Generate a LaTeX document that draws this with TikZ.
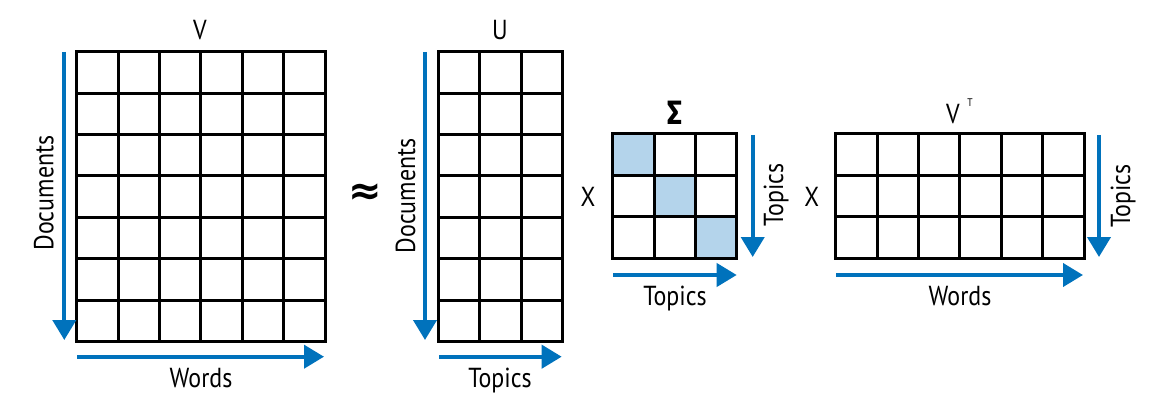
\documentclass[tikz,border=0pt]{standalone}
\usepackage{graphicx}
\usepackage{fontspec}
\setmainfont{PT Sans}[FakeStretch=0.87]
\newfontfamily\djvfam{DejaVu Sans}
\newfontfamily\firafam{Fira Sans}[FakeStretch=0.87]
\usetikzlibrary{arrows.meta}
\definecolor{arrowblue}{RGB}{0,114,188}
\definecolor{cellblue}{RGB}{180,212,235}
\newcommand\cs{41.4}
\newcommand\matgrid[5]{%
  \node[inner sep=0pt, outer sep=0pt, minimum width={#4*\cs*1pt}, minimum height={#5*\cs*1pt}, anchor=north west] (#1) at (#2,#3) {};
  \foreach \i in {0,...,#4} \draw[gridline] ({#2+\i*\cs},#3) -- ({#2+\i*\cs},{#3+#5*\cs});
  \foreach \j in {0,...,#5} \draw[gridline] (#2,{#3+\j*\cs}) -- ({#2+#4*\cs},{#3+\j*\cs});
}
\begin{document}
\begin{tikzpicture}[x=1pt,y=-1pt,
  gridline/.style={line width=3pt, line cap=rect, black},
  arr/.style={arrowblue, line width=4pt, -{Triangle[width=23pt,length=20pt]}},
  lbl/.style={font=\fontsize{27.5}{30}\selectfont, inner sep=0pt, anchor=base},
  rlbl/.style={lbl, rotate=90}]
\useasboundingbox (0,0) rectangle (1162,409);
% shaded diagonal of Sigma
\fill[cellblue] (612.7,134) rectangle ++(\cs,\cs);
\fill[cellblue] ({612.7+\cs},{134+\cs}) rectangle ++(\cs,\cs);
\fill[cellblue] ({612.7+2*\cs},{134+2*\cs}) rectangle ++(\cs,\cs);
% matrices
\matgrid{V}{76.7}{51.7}{6}{7}
\matgrid{U}{438.3}{51.7}{3}{7}
\matgrid{S}{612.7}{134}{3}{3}
\matgrid{VT}{835.7}{134}{6}{3}
% arrow end points
\coordinate (vd1) at (64.3,52);  \coordinate (vd2) at (64.3,340);
\coordinate (vw1) at (77,356.7); \coordinate (vw2) at (324,356.7);
\coordinate (ud1) at (425,52);   \coordinate (ud2) at (425,340);
\coordinate (ut1) at (439,356.7);\coordinate (ut2) at (561.7,356.7);
\coordinate (sv1) at (752.7,135);\coordinate (sv2) at (752.7,257);
\coordinate (sh1) at (613,275);  \coordinate (sh2) at (736.7,275);
\coordinate (tv1) at (1099,135); \coordinate (tv2) at (1099,257);
\coordinate (th1) at (836,275);  \coordinate (th2) at (1083,275);
\draw[arr] (vd1) -- (vd2);
\draw[arr] (vw1) -- (vw2);
\draw[arr] (ud1) -- (ud2);
\draw[arr] (ut1) -- (ut2);
\draw[arr] (sv1) -- (sv2);
\draw[arr] (sh1) -- (sh2);
\draw[arr] (tv1) -- (tv2);
\draw[arr] (th1) -- (th2);
% labels
\node[lbl] (lV) at (200,40) {V};
\node[lbl] (lU) at (500,40) {U};
\node[lbl] (lS) at (675,125) {\scalebox{1.25}{\firafam\bfseries\fontsize{27}{30}\selectfont Σ}};
\node[lbl] (lVT) at (953,123.3) {V};
\node[inner sep=0pt, anchor=base] (lT) at (970,107) {\fontsize{11}{13}\selectfont T};
\node[lbl] (w1) at (201,387) {Words};
\node[lbl] (t1) at (500,387) {Topics};
\node[lbl] (t2) at (675,305) {Topics};
\node[lbl] (w2) at (960,305) {Words};
\node[rlbl] (d1) at (53.3,193) {Documents};
\node[rlbl] (d2) at (415,195.8) {Documents};
\node[rlbl] (t3) at (783,195) {Topics};
\node[rlbl] (t4) at (1130,195.8) {Topics};
\node[inner sep=0pt, anchor=center] (ap) at (365,194) {\scalebox{4}{\djvfam\bfseries ≈}};
\node[lbl] (x1) at (588,206) {X};
\node[lbl] (x2) at (811.7,206) {X};
\end{tikzpicture}
\end{document}
